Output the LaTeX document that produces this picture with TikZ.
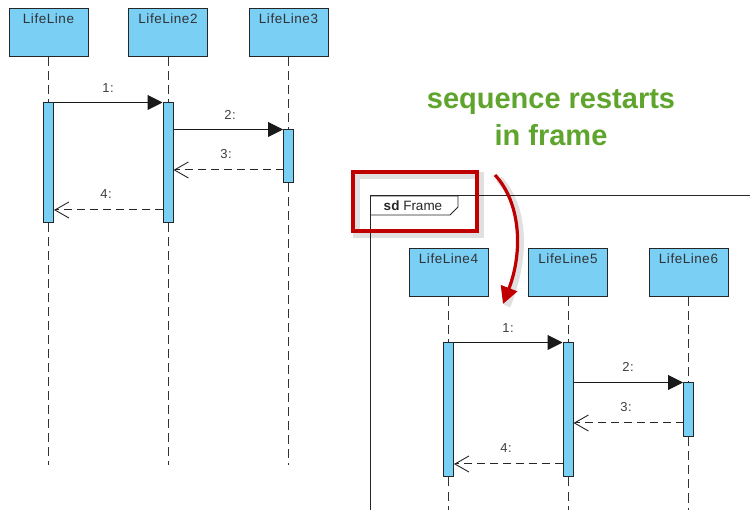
\documentclass[tikz,border=0pt]{standalone}
\usepackage{fontspec}
\setmainfont{Liberation Sans}
\newfontfamily\spacedsans[LetterSpace=4]{Liberation Sans}
\usetikzlibrary{arrows.meta,calc}
\definecolor{llblue}{RGB}{122,207,245}
\definecolor{redmark}{RGB}{192,0,0}
\definecolor{greentext}{RGB}{95,165,45}
\begin{document}
\begin{tikzpicture}[x=1pt,y=-1pt,
 lbox/.style={draw=black!85, fill=llblue, minimum width=79pt, minimum height=48pt, inner sep=0pt, line width=1pt},
 lname/.style={font=\spacedsans\fontsize{13.5}{15}\selectfont, text=black!80, anchor=north, inner sep=0pt},
 act/.style={draw=black!85, fill=llblue, minimum width=10pt, inner sep=0pt, line width=1pt},
 lifeline/.style={draw=black!80, dash pattern=on 9pt off 5pt, line width=1pt},
 sync/.style={draw=black!90, line width=1pt, -{Triangle[length=15pt,width=15pt]}},
 ret/.style={draw=black!85, line width=1pt, dash pattern=on 8pt off 5pt, -{Straight Barb[length=14pt,width=16pt,line width=0.9pt]}},
 mlabel/.style={font=\spacedsans\fontsize{13}{14}\selectfont, text=black!75, inner sep=0pt},
 redline/.style={draw=redmark, line width=3.2pt},
 shadowline/.style={draw=black, opacity=0.12, line width=7pt}
]
\useasboundingbox (0,0) rectangle (750,510);
\fill[white] (0,0) rectangle (750,510);

% ---------- left diagram ----------
\node[lbox] (l1) at (48.5,33) {};
\node[lname] (t1) at ([yshift=-5pt]l1.north) {LifeLine};
\node[lbox] (l2) at (168,33) {};
\node[lname] (t2) at ([yshift=-5pt]l2.north) {LifeLine2};
\node[lbox] (l3) at (288.5,33) {};
\node[lname] (t3) at ([yshift=-5pt]l3.north) {LifeLine3};

\coordinate (e1) at (48.5,465);
\coordinate (e2) at (168,465);
\coordinate (e3) at (288.5,465);

\node[act, minimum height=120pt] (a1) at (48.5,163) {};
\node[act, minimum height=120pt] (a2) at (168,163) {};
\node[act, minimum height=53pt] (a3) at (288.5,156.5) {};

\draw[lifeline] (l1.south) -- (a1.north);
\draw[lifeline] (a1.south) -- (e1);
\draw[lifeline] (l2.south) -- (a2.north);
\draw[lifeline] (a2.south) -- (e2);
\draw[lifeline] (l3.south) -- (a3.north);
\draw[lifeline] (a3.south) -- (e3);

\draw[sync] (a1.north east) -- (a2.north west);
\node[mlabel] (m1) at (108,88) {1:};
\draw[sync] (a2.east |- a3.north) -- (a3.north west);
\node[mlabel] (m2) at (230,115) {2:};
\coordinate (r3) at (283.5,170);
\draw[ret] (r3) -- (r3 -| a2.east);
\node[mlabel] (m3) at (226,154) {3:};
\coordinate (r4) at (163,210);
\draw[ret] (r4) -- (r4 -| a1.east);
\node[mlabel] (m4) at (106,194) {4:};

% ---------- frame ----------
\draw[black!85, line width=1pt] (750,196) -- (370,196) -- (370,512);
\draw[black!85, line width=0.9pt] (370,196) -- (458,196) -- (458,207) -- (450,215) -- (370,215);
\node[font=\fontsize{13.5}{15}\selectfont, text=black!85, inner sep=0pt] (fl) at (413,206) {\textbf{sd} Frame};

% ---------- right diagram ----------
\node[lbox] (l4) at (448.5,273) {};
\node[lname] (t4) at ([yshift=-5pt]l4.north) {LifeLine4};
\node[lbox] (l5) at (568,273) {};
\node[lname] (t5) at ([yshift=-5pt]l5.north) {LifeLine5};
\node[lbox] (l6) at (688.5,273) {};
\node[lname] (t6) at ([yshift=-5pt]l6.north) {LifeLine6};

\coordinate (e4) at (448.5,512);
\coordinate (e5) at (568,512);
\coordinate (e6) at (688.5,512);

\node[act, minimum height=134pt] (a4) at (448.5,410) {};
\node[act, minimum height=134pt] (a5) at (568,410) {};
\node[act, minimum height=54pt] (a6) at (688.5,410) {};

\draw[lifeline] (l4.south) -- (a4.north);
\draw[lifeline] (a4.south) -- (e4);
\draw[lifeline] (l5.south) -- (a5.north);
\draw[lifeline] (a5.south) -- (e5);
\draw[lifeline] (l6.south) -- (a6.north);
\draw[lifeline] (a6.south) -- (e6);

\draw[sync] (a4.north east) -- (a5.north west);
\node[mlabel] (m5) at (508,328) {1:};
\draw[sync] (a5.east |- a6.north) -- (a6.north west);
\node[mlabel] (m6) at (628,367) {2:};
\coordinate (r7) at (683.5,423);
\draw[ret] (r7) -- (r7 -| a5.east);
\node[mlabel] (m7) at (626,407) {3:};
\coordinate (r8) at (563,464);
\draw[ret] (r8) -- (r8 -| a4.east);
\node[mlabel] (m8) at (506,448) {4:};

% ---------- annotation ----------
\node[font=\bfseries\fontsize{29}{37}\selectfont, text=greentext, align=center, inner sep=0pt] (note) at (551,118) {sequence restarts\\in frame};

\draw[shadowline] (356,176) rectangle (480,235);
\draw[redline] (353,172) rectangle (477,231);

\coordinate (c0) at (495,175);
\coordinate (c1) at (503,304);
\draw[shadowline] (499,179) .. controls (525,207) and (527,256) .. (507,306);
\draw[redline, -{Triangle[length=17pt,width=17pt]}] (c0) .. controls (521,203) and (523,252) .. (c1);
\end{tikzpicture}
\end{document}
